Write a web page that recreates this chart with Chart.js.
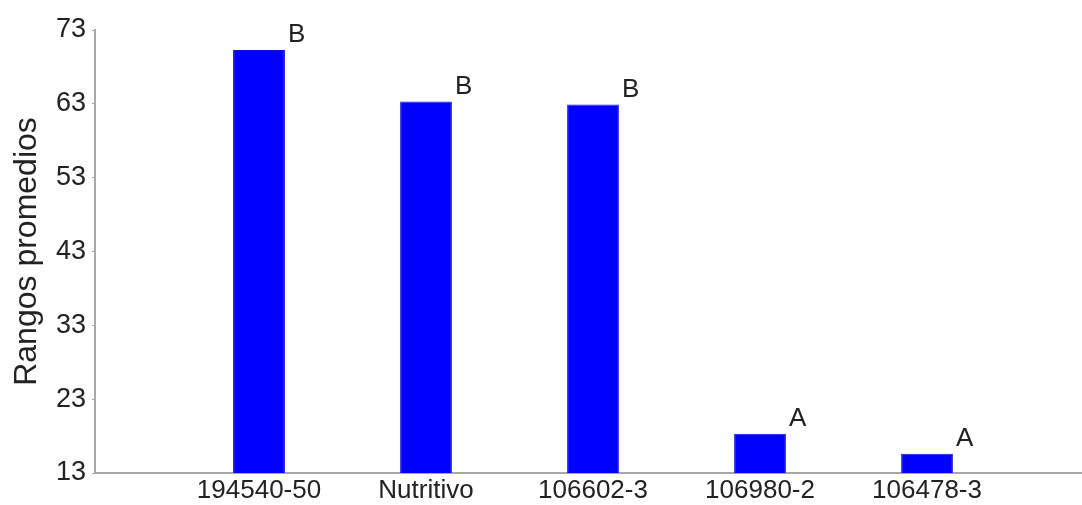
<!DOCTYPE html>
<html>
<head>
<meta charset="utf-8">
<script src="https://cdn.jsdelivr.net/npm/chart.js@4"></script>
<style>
  body { margin: 0; background: #fff; }
  #wrap { width: 1082px; height: 505px; }
</style>
</head>
<body>
<div id="wrap"><canvas id="rangos" width="1082" height="505"></canvas></div>
<script>
// values
const categories = ['194540-50', 'Nutritivo', '106602-3', '106980-2', '106478-3'];
const rangos = [70.3, 63.3, 62.9, 18.3, 15.6];
const letras = ['B', 'B', 'B', 'A', 'A'];
const yTicks = [13, 23, 33, 43, 53, 63, 73];

const textColor = '#222222';
const axisColor = '#a8a8a8';
const fontFamily = 'Liberation Sans, Arial, sans-serif';

// letters above each bar
const letrasPlugin = {
    id: 'letras',
    afterDatasetsDraw(chart) {
        const ctx = chart.ctx;
        const bars = chart.getDatasetMeta(0).data;
        ctx.save();
        ctx.fillStyle = textColor;
        ctx.font = '26px ' + fontFamily;
        ctx.textAlign = 'left';
        ctx.textBaseline = 'alphabetic';
        bars.forEach((bar, i) => {
            ctx.fillText(letras[i], bar.x + bar.width / 2 + 3, bar.y - 8);
        });
        ctx.restore();
    }
};

new Chart(document.getElementById('rangos'), {
    type: 'bar',
    data: {
        datasets: [{
            data: rangos.map((v, i) => ({ x: i, y: v })),
            backgroundColor: '#0000ff',
            borderColor: '#1010e0',
            borderWidth: 1,
            barPercentage: 0.31,
            categoryPercentage: 1,
        }]
    },
    options: {
        responsive: false,
        animation: false,
        layout: { padding: { top: 30, right: 0, left: 0, bottom: 0 } },
        plugins: {
            legend: { display: false },
            tooltip: { enabled: false },
        },
        scales: {
            x: {
                type: 'linear',
                offset: false,
                min: -0.982,
                max: 4.928,
                afterBuildTicks: (axis) => {
                    axis.ticks = categories.map((c, i) => ({ value: i }));
                },
                afterFit: (axis) => { axis.height = 32; },
                grid: { display: false, drawTicks: false },
                border: { color: axisColor, width: 2 },
                ticks: {
                    callback: (value) => categories[value],
                    color: textColor,
                    font: { size: 26, family: fontFamily, lineHeight: 1 },
                    padding: 5,
                    maxRotation: 0,
                    autoSkip: false,
                },
            },
            y: {
                min: 13,
                max: 73,
                afterBuildTicks: (axis) => {
                    axis.ticks = yTicks.map((v) => ({ value: v }));
                },
                afterFit: (axis) => { axis.width = 95; },
                grid: {
                    drawOnChartArea: false,
                    color: axisColor,
                    tickLength: 3,
                },
                border: { color: axisColor, width: 2 },
                title: {
                    display: true,
                    text: 'Rangos promedios',
                    color: textColor,
                    font: { size: 32, family: fontFamily },
                    padding: { top: 8, bottom: 0 },
                },
                ticks: {
                    color: textColor,
                    font: { size: 27, family: fontFamily },
                    padding: 6,
                },
            },
        },
    },
    plugins: [letrasPlugin],
});
</script>
</body>
</html>
